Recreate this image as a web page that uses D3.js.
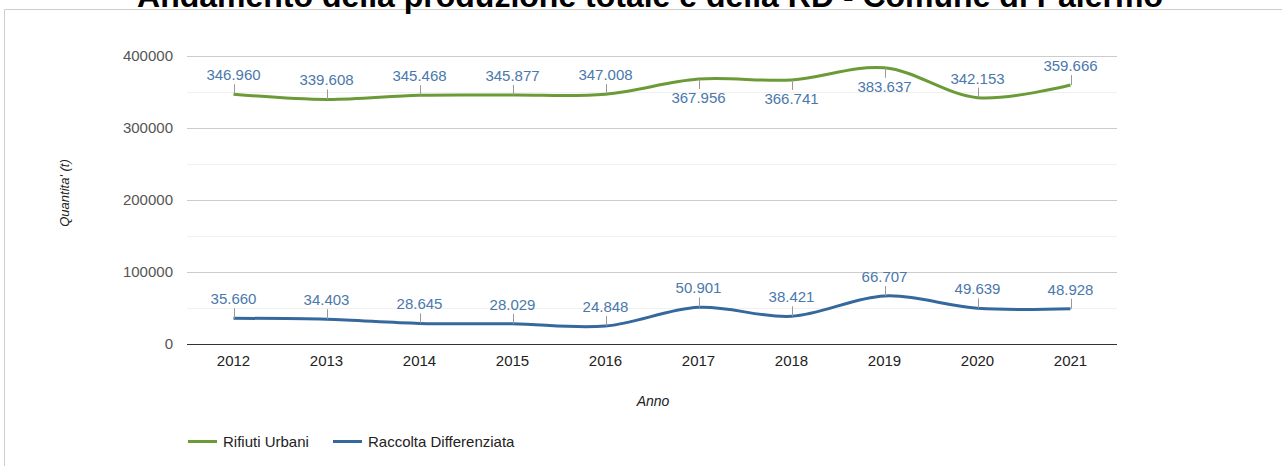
<!DOCTYPE html>
<html>
<head>
<meta charset="utf-8">
<script src="https://cdn.jsdelivr.net/npm/d3@7"></script>
<style>
  html, body { margin: 0; padding: 0; background: #fff; }
  svg { display: block; font-family: "Liberation Sans", Arial, sans-serif; }
</style>
</head>
<body>
<svg id="chart" width="1282" height="466"></svg>
<script>
const title = "Andamento della produzione totale e della RD - Comune di Palermo";
const years = ["2012","2013","2014","2015","2016","2017","2018","2019","2020","2021"];
const rifiutiUrbani = [346960, 339608, 345468, 345877, 347008, 367956, 366741, 383637, 342153, 359666];
const raccoltaDiff = [35660, 34403, 28645, 28029, 24848, 50901, 38421, 66707, 49639, 48928];
const yTicks = [0, 100000, 200000, 300000, 400000];
const yMinor = [50000, 150000, 250000, 350000];
const seriesNames = ["Rifiuti Urbani", "Raccolta Differenziata"];
const seriesColors = ["#6b9b37", "#35689c"];

const svg = d3.select("#chart");
const W = 1282, H = 466;
const plot = { left: 187, right: 1117, top: 56, bottom: 344 };

// frame
svg.append("line").attr("x1", 4.5).attr("x2", 4.5).attr("y1", 9.5).attr("y2", H)
  .attr("stroke", "#cfcfc8").attr("stroke-width", 1);
svg.append("line").attr("x1", 4.5).attr("x2", W).attr("y1", 9.5).attr("y2", 9.5)
  .attr("stroke", "#cfcfc8").attr("stroke-width", 1);

// title (cut off at top, as in the reference)
svg.append("text").attr("x", 650).attr("y", 7).attr("text-anchor", "middle")
  .attr("font-size", 32).attr("font-weight", "bold").attr("fill", "#000").text(title);

const x = d3.scalePoint().domain(years).range([plot.left, plot.right]).padding(0.5);
const y = d3.scaleLinear().domain([0, 400000]).range([plot.bottom, plot.top]);

// minor gridlines
svg.append("g").selectAll("line").data(yMinor).join("line")
  .attr("x1", plot.left).attr("x2", plot.right)
  .attr("y1", d => Math.round(y(d)) + 0.5).attr("y2", d => Math.round(y(d)) + 0.5)
  .attr("stroke", "#f0f0f0").attr("stroke-width", 1);

// major gridlines
svg.append("g").selectAll("line").data(yTicks.filter(d => d !== 0)).join("line")
  .attr("x1", plot.left).attr("x2", plot.right)
  .attr("y1", d => Math.round(y(d)) + 0.5).attr("y2", d => Math.round(y(d)) + 0.5)
  .attr("stroke", "#cccccc").attr("stroke-width", 1);

// baseline
svg.append("line").attr("x1", plot.left).attr("x2", plot.right)
  .attr("y1", Math.round(y(0)) + 0.5).attr("y2", Math.round(y(0)) + 0.5)
  .attr("stroke", "#333").attr("stroke-width", 1);

// y tick labels
svg.append("g").selectAll("text").data(yTicks).join("text")
  .attr("x", 173).attr("y", d => y(d) + 5).attr("text-anchor", "end")
  .attr("font-size", 15).attr("fill", "#555").text(d => d);

// x tick labels
svg.append("g").selectAll("text").data(years).join("text")
  .attr("x", d => x(d)).attr("y", 366).attr("text-anchor", "middle")
  .attr("font-size", 15).attr("fill", "#222").text(d => d);

// axis titles
svg.append("text").attr("transform", "translate(69,193) rotate(-90)")
  .attr("text-anchor", "middle").attr("font-size", 13).attr("font-style", "italic")
  .attr("fill", "#222").text("Quantita' (t)");
svg.append("text").attr("x", 653).attr("y", 406).attr("text-anchor", "middle")
  .attr("font-size", 14).attr("font-style", "italic").attr("fill", "#222").text("Anno");

const fmt = v => d3.format(",")(v).replace(/,/g, ".");
const series = [rifiutiUrbani, raccoltaDiff];
const line = d3.line().x((d, i) => x(years[i])).y(d => y(d)).curve(d3.curveCatmullRom.alpha(0.5));

series.forEach((vals, si) => {
  svg.append("path").datum(vals).attr("d", line)
    .attr("fill", "none").attr("stroke", seriesColors[si]).attr("stroke-width", 3)
    .attr("stroke-linejoin", "round");
});

// annotations with stems
series.forEach((vals, si) => {
  const g = svg.append("g");
  vals.forEach((v, i) => {
    const px = x(years[i]), py = y(v);
    const below = (py - 24) < plot.top + 2;
    const stemEnd = below ? py + 10 : py - 10;
    g.append("line").attr("x1", Math.round(px) + 0.5).attr("x2", Math.round(px) + 0.5)
      .attr("y1", py).attr("y2", stemEnd).attr("stroke", "#999").attr("stroke-width", 1);
    g.append("text").attr("x", px).attr("y", below ? stemEnd + 14 : stemEnd - 4)
      .attr("text-anchor", "middle").attr("font-size", 15).attr("fill", "#4a78ab")
      .text(fmt(v));
  });
});

// legend
const legend = [{ x: 188 }, { x: 333 }];
legend.forEach((l, i) => {
  svg.append("line").attr("x1", l.x).attr("x2", l.x + 29).attr("y1", 441.5).attr("y2", 441.5)
    .attr("stroke", seriesColors[i]).attr("stroke-width", 3);
  svg.append("text").attr("x", l.x + 35).attr("y", 446.5).attr("font-size", 15)
    .attr("fill", "#222").text(seriesNames[i]);
});
</script>
</body>
</html>
